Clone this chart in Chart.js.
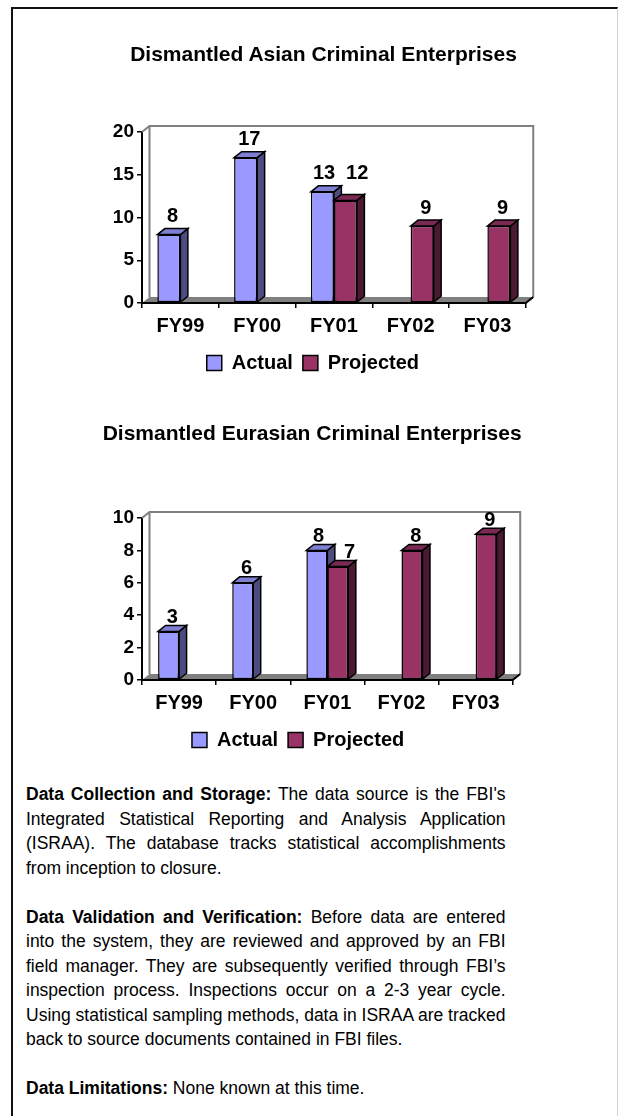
<!DOCTYPE html>
<html>
<head>
<meta charset="utf-8">
<script src="https://cdn.jsdelivr.net/npm/chart.js@4.4.1/dist/chart.umd.min.js"></script>
<style>
  html, body { margin: 0; padding: 0; background: #fff; overflow: hidden; }
  body { width: 619px; height: 1116px; position: relative; font-family: "Liberation Sans", Arial, sans-serif; color: #000; }
  #frame { position: absolute; left: 11px; top: 7px; width: 604px; height: 1200px;
           border-left: 2px solid #111; border-top: 2px solid #111; border-right: 1px solid #d4d4d4; }
  canvas { position: absolute; left: 0; }
  .title { position: absolute; width: 500px; text-align: center; font-weight: bold; font-size: 21px; line-height: 21px; white-space: nowrap; }
  #notes { position: absolute; left: 26px; top: 782.4px; width: 479.5px; font-size: 17.5px; line-height: 24.5px; }
  #notes p { margin: 0 0 24.5px 0; }
  #notes .l { display: block; text-align: justify; text-align-last: justify; word-spacing: -1.5px; }
  #notes .end { text-align: left; text-align-last: left; word-spacing: 0; }
</style>
</head>
<body>
<div id="frame"></div>
<canvas id="asian" width="619" height="383" style="top:0px"></canvas>
<canvas id="eurasian" width="619" height="382" style="top:378px"></canvas>
<div class="title" style="left:73.5px; top:42.9px">Dismantled Asian Criminal Enterprises</div>
<div class="title" style="left:62.2px; top:422.2px">Dismantled Eurasian Criminal Enterprises</div>
<div id="notes">
  <p>
    <span class="l"><b>Data Collection and Storage:</b> The data source is the FBI's</span>
    <span class="l">Integrated Statistical Reporting and Analysis Application</span>
    <span class="l">(ISRAA). The database tracks statistical accomplishments</span>
    <span class="l end">from inception to closure.</span>
  </p>
  <p>
    <span class="l"><b>Data Validation and Verification:</b> Before data are entered</span>
    <span class="l">into the system, they are reviewed and approved by an FBI</span>
    <span class="l">field manager. They are subsequently verified through FBI’s</span>
    <span class="l">inspection process. Inspections occur on a 2-3 year cycle.</span>
    <span class="l">Using statistical sampling methods, data in ISRAA are tracked</span>
    <span class="l end">back to source documents contained in FBI files.</span>
  </p>
  <p>
    <span class="l end"><b>Data Limitations:</b> None known at this time.</span>
  </p>
</div>
<script>
// Fiscal years on the category axis
const fiscalYears = ['FY99', 'FY00', 'FY01', 'FY02', 'FY03'];
const seriesNames = ['Actual', 'Projected'];

// Dismantled Asian criminal enterprises
const asianActual = [8, 17, 13, null, null];
const asianProjected = [null, null, 12, 9, 9];
const asianAxisMax = 20;
const asianAxisStep = 5;

// Dismantled Eurasian criminal enterprises
const eurasianActual = [3, 6, 8, null, null];
const eurasianProjected = [null, null, 7, 8, 9];
const eurasianAxisMax = 10;
const eurasianAxisStep = 2;

const FONT = '"Liberation Sans", Arial, sans-serif';

// Face colours for the pseudo-3D columns: front, top, side
const palette = [
  { front: '#9999FF', top: '#7F7FD4', side: '#4C4C80' },
  { front: '#993366', top: '#7A2952', side: '#4C1933' }
];

// Draws the back wall, floor and the top/side faces of each column,
// then the value labels above the columns.
const columnDepth = {
  id: 'columnDepth',
  beforeDatasetsDraw(chart, args, o) {
    const { ctx, chartArea: a } = chart;
    const dx = o.dx, dy = o.dy;
    ctx.save();
    ctx.lineJoin = 'miter';
    // back wall + side wall outline
    ctx.strokeStyle = '#808080';
    ctx.lineWidth = 2;
    ctx.beginPath();
    ctx.moveTo(a.left, a.top);
    ctx.lineTo(a.left + dx, a.top - dy);
    ctx.lineTo(a.right + dx, a.top - dy);
    ctx.lineTo(a.right + dx, a.bottom - dy);
    ctx.moveTo(a.left + dx, a.top - dy);
    ctx.lineTo(a.left + dx, a.bottom - dy);
    ctx.stroke();
    // floor
    ctx.fillStyle = '#808080';
    ctx.beginPath();
    ctx.moveTo(a.left, a.bottom);
    ctx.lineTo(a.left + dx, a.bottom - dy);
    ctx.lineTo(a.right + dx, a.bottom - dy);
    ctx.lineTo(a.right, a.bottom);
    ctx.closePath();
    ctx.fill();
    ctx.strokeStyle = '#000';
    ctx.lineWidth = 2;
    ctx.beginPath();
    ctx.moveTo(a.left, a.bottom);
    ctx.lineTo(a.right, a.bottom);
    ctx.lineTo(a.right + dx, a.bottom - dy);
    ctx.stroke();

    // column tops and sides, left to right
    const metas = chart.getSortedVisibleDatasetMetas().slice().sort((m, n) => m.index - n.index);
    const count = chart.data.labels.length;
    ctx.lineWidth = 1.5;
    ctx.strokeStyle = '#000';
    for (let i = 0; i < count; i++) {
      for (const meta of metas) {
        const v = chart.data.datasets[meta.index].data[i];
        if (v === null || v === undefined) continue;
        const el = meta.data[i];
        const { x, y, base, width } = el.getProps(['x', 'y', 'base', 'width'], true);
        const l = x - width / 2, r = x + width / 2;
        const c = palette[meta.index];
        ctx.fillStyle = c.side;
        ctx.beginPath();
        ctx.moveTo(r, y);
        ctx.lineTo(r + o.bx, y - o.by);
        ctx.lineTo(r + o.bx, base - o.by);
        ctx.lineTo(r, base);
        ctx.closePath();
        ctx.fill();
        ctx.stroke();
        ctx.fillStyle = c.top;
        ctx.beginPath();
        ctx.moveTo(l, y);
        ctx.lineTo(l + o.bx, y - o.by);
        ctx.lineTo(r + o.bx, y - o.by);
        ctx.lineTo(r, y);
        ctx.closePath();
        ctx.fill();
        ctx.stroke();
      }
    }
    ctx.restore();
  },
  afterDatasetsDraw(chart, args, o) {
    const { ctx } = chart;
    const metas = chart.getSortedVisibleDatasetMetas().slice().sort((m, n) => m.index - n.index);
    const count = chart.data.labels.length;
    ctx.save();
    ctx.font = 'bold 20px ' + FONT;
    ctx.fillStyle = '#000';
    ctx.textAlign = 'center';
    ctx.textBaseline = 'alphabetic';
    for (let i = 0; i < count; i++) {
      const items = [];
      for (const meta of metas) {
        const v = chart.data.datasets[meta.index].data[i];
        if (v === null || v === undefined) continue;
        const el = meta.data[i];
        const { x, y } = el.getProps(['x', 'y'], true);
        items.push({ v, x: x + o.bx / 2, y: y - o.by - o.gap });
      }
      if (items.length === 2) {
        // spread paired labels so they do not collide
        items[0].x -= 2;
        items[1].x += 8;
        if (Math.abs(items[1].y - items[0].y) < 10) {
          const yy = Math.min(items[0].y, items[1].y);
          items[0].y = yy; items[1].y = yy;
        }
      }
      for (const it of items) ctx.fillText(String(it.v), it.x, it.y);
    }
    ctx.restore();
  }
};

function buildChart(id, actual, projected, axisMax, axisStep, fit) {
  const datasets = [actual, projected].map((values, k) => ({
    label: seriesNames[k],
    data: values,
    backgroundColor: palette[k].front,
    borderColor: '#000',
    borderWidth: 1.5,
    borderSkipped: false,
    categoryPercentage: fit.category,
    barPercentage: 1
  }));
  return new Chart(document.getElementById(id), {
    type: 'bar',
    data: { labels: fiscalYears, datasets },
    plugins: [columnDepth],
    options: {
      responsive: false,
      animation: false,
      devicePixelRatio: 1,
      layout: { padding: fit.padding },
      scales: {
        x: {
          grid: { drawOnChartArea: false, tickLength: 5, color: '#000', lineWidth: 1.5 },
          border: { color: '#000', width: 2 },
          ticks: { color: '#000', padding: 6.5, font: { family: FONT, size: 20, weight: 'bold' } },
          afterFit(scale) { scale.height = 40; }
        },
        y: {
          min: 0,
          max: axisMax,
          grid: { drawOnChartArea: false, tickLength: 5, color: '#000', lineWidth: 1.5 },
          border: { color: '#000', width: 2 },
          ticks: { stepSize: axisStep, color: '#000', padding: 3, font: { family: FONT, size: 19, weight: 'bold' } },
          afterFit(scale) { scale.width = fit.axisWidth; }
        }
      },
      plugins: {
        legend: {
          position: 'bottom',
          labels: {
            boxWidth: 15,
            boxHeight: 15,
            color: '#000',
            padding: 10,
            font: { family: FONT, size: 20, weight: 'bold' }
          }
        },
        tooltip: { enabled: false },
        columnDepth: { dx: 7.5, dy: 6, bx: 7.5, by: 6, gap: fit.gap }
      }
    }
  });
}

buildChart('asian', asianActual, asianProjected, asianAxisMax, asianAxisStep, {
  category: 0.6,
  padding: { top: 132, left: 100, right: 93.25, bottom: 0 },
  axisWidth: 42,
  gap: 6.5
});

buildChart('eurasian', eurasianActual, eurasianProjected, eurasianAxisMax, eurasianAxisStep, {
  category: 0.566,
  padding: { top: 140, left: 83.5, right: 106.3, bottom: 0 },
  axisWidth: 58.5,
  gap: 2.5
});
</script>
</body>
</html>
